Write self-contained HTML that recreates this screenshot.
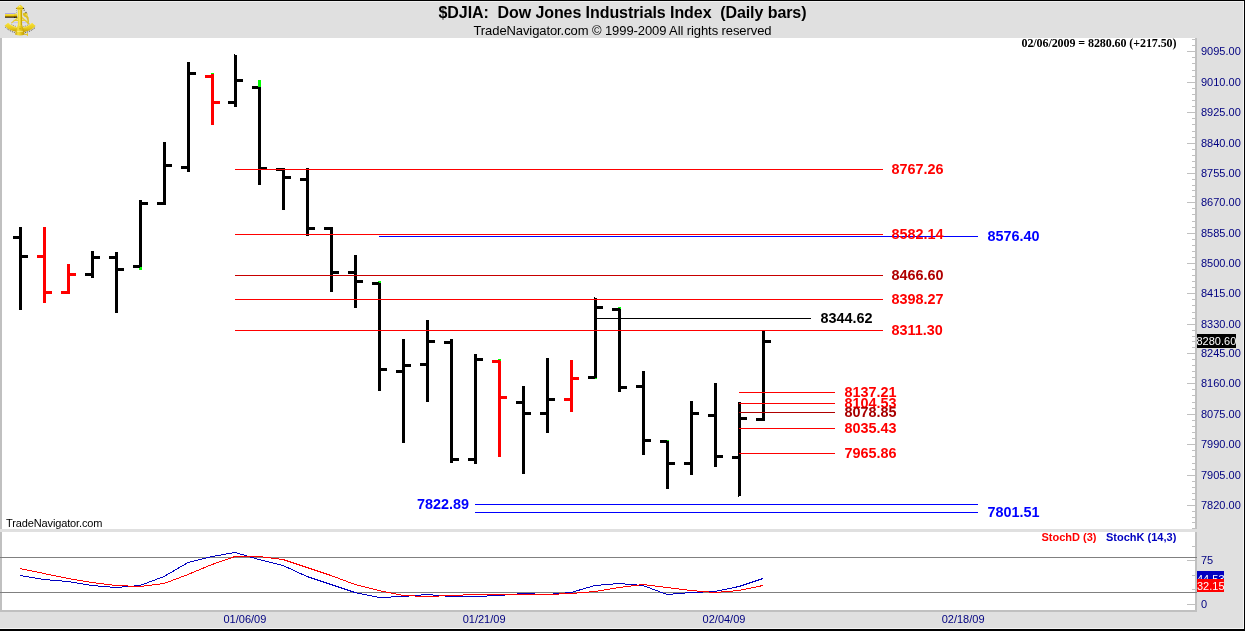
<!DOCTYPE html>
<html><head><meta charset="utf-8"><title>$DJIA</title>
<style>
html,body{margin:0;padding:0;background:#e0e0e0;}
body{width:1245px;height:631px;overflow:hidden;font-family:"Liberation Sans",sans-serif;}
svg{display:block;position:absolute;left:0;top:0;will-change:transform;}
text{font-family:"Liberation Sans",sans-serif;}
.ser{font-family:"Liberation Serif",serif;font-weight:bold;font-size:12px;}
.ax{font-size:11px;fill:#000080;}
.lv{font-size:14.4px;font-weight:bold;}
</style></head><body>
<svg width="1245" height="631" viewBox="0 0 1245 631">
<g shape-rendering="crispEdges">
<rect x="0" y="0" width="1245" height="631" fill="#e0e0e0"/>
<rect x="0" y="0" width="1245" height="1" fill="#000"/>
<rect x="0" y="1" width="1244" height="1" fill="#f0f0f0"/>
<rect x="0" y="628" width="1244" height="1" fill="#f4f4f4"/>
<rect x="1243" y="1" width="1" height="628" fill="#f4f4f4"/>
<rect x="0" y="629" width="1245" height="2" fill="#000"/>
<rect x="1244" y="0" width="1" height="631" fill="#000"/>
<!-- plot areas -->
<rect x="0" y="38" width="2" height="574" fill="#c0c0c0"/>
<rect x="2" y="38" width="1193" height="491" fill="#fff"/>
<rect x="2" y="532" width="1193" height="78" fill="#fff"/>
<rect x="1195" y="38" width="2" height="574" fill="#c0c0c0"/>
<rect x="0" y="610" width="1197" height="2" fill="#c0c0c0"/>
<rect x="0" y="529" width="1198" height="3" fill="#e0e0e0"/>

<rect x="1187" y="51" width="8" height="1" fill="#c0c0c0"/>
<rect x="1187" y="82" width="8" height="1" fill="#c0c0c0"/>
<rect x="1187" y="112" width="8" height="1" fill="#c0c0c0"/>
<rect x="1187" y="143" width="8" height="1" fill="#c0c0c0"/>
<rect x="1187" y="173" width="8" height="1" fill="#c0c0c0"/>
<rect x="1187" y="202" width="8" height="1" fill="#c0c0c0"/>
<rect x="1187" y="233" width="8" height="1" fill="#c0c0c0"/>
<rect x="1187" y="263" width="8" height="1" fill="#c0c0c0"/>
<rect x="1187" y="293" width="8" height="1" fill="#c0c0c0"/>
<rect x="1187" y="324" width="8" height="1" fill="#c0c0c0"/>
<rect x="1187" y="353" width="8" height="1" fill="#c0c0c0"/>
<rect x="1187" y="383" width="8" height="1" fill="#c0c0c0"/>
<rect x="1187" y="414" width="8" height="1" fill="#c0c0c0"/>
<rect x="1187" y="444" width="8" height="1" fill="#c0c0c0"/>
<rect x="1187" y="475" width="8" height="1" fill="#c0c0c0"/>
<rect x="1187" y="505" width="8" height="1" fill="#c0c0c0"/>
<rect x="1192" y="57" width="3" height="1" fill="#c0c0c0"/>
<rect x="1192" y="63" width="3" height="1" fill="#c0c0c0"/>
<rect x="1192" y="70" width="3" height="1" fill="#c0c0c0"/>
<rect x="1192" y="76" width="3" height="1" fill="#c0c0c0"/>
<rect x="1192" y="88" width="3" height="1" fill="#c0c0c0"/>
<rect x="1192" y="94" width="3" height="1" fill="#c0c0c0"/>
<rect x="1192" y="100" width="3" height="1" fill="#c0c0c0"/>
<rect x="1192" y="106" width="3" height="1" fill="#c0c0c0"/>
<rect x="1192" y="118" width="3" height="1" fill="#c0c0c0"/>
<rect x="1192" y="124" width="3" height="1" fill="#c0c0c0"/>
<rect x="1192" y="131" width="3" height="1" fill="#c0c0c0"/>
<rect x="1192" y="137" width="3" height="1" fill="#c0c0c0"/>
<rect x="1192" y="149" width="3" height="1" fill="#c0c0c0"/>
<rect x="1192" y="155" width="3" height="1" fill="#c0c0c0"/>
<rect x="1192" y="161" width="3" height="1" fill="#c0c0c0"/>
<rect x="1192" y="167" width="3" height="1" fill="#c0c0c0"/>
<rect x="1192" y="179" width="3" height="1" fill="#c0c0c0"/>
<rect x="1192" y="185" width="3" height="1" fill="#c0c0c0"/>
<rect x="1192" y="190" width="3" height="1" fill="#c0c0c0"/>
<rect x="1192" y="196" width="3" height="1" fill="#c0c0c0"/>
<rect x="1192" y="208" width="3" height="1" fill="#c0c0c0"/>
<rect x="1192" y="214" width="3" height="1" fill="#c0c0c0"/>
<rect x="1192" y="221" width="3" height="1" fill="#c0c0c0"/>
<rect x="1192" y="227" width="3" height="1" fill="#c0c0c0"/>
<rect x="1192" y="239" width="3" height="1" fill="#c0c0c0"/>
<rect x="1192" y="245" width="3" height="1" fill="#c0c0c0"/>
<rect x="1192" y="251" width="3" height="1" fill="#c0c0c0"/>
<rect x="1192" y="257" width="3" height="1" fill="#c0c0c0"/>
<rect x="1192" y="269" width="3" height="1" fill="#c0c0c0"/>
<rect x="1192" y="275" width="3" height="1" fill="#c0c0c0"/>
<rect x="1192" y="281" width="3" height="1" fill="#c0c0c0"/>
<rect x="1192" y="287" width="3" height="1" fill="#c0c0c0"/>
<rect x="1192" y="299" width="3" height="1" fill="#c0c0c0"/>
<rect x="1192" y="305" width="3" height="1" fill="#c0c0c0"/>
<rect x="1192" y="312" width="3" height="1" fill="#c0c0c0"/>
<rect x="1192" y="318" width="3" height="1" fill="#c0c0c0"/>
<rect x="1192" y="330" width="3" height="1" fill="#c0c0c0"/>
<rect x="1192" y="336" width="3" height="1" fill="#c0c0c0"/>
<rect x="1192" y="341" width="3" height="1" fill="#c0c0c0"/>
<rect x="1192" y="347" width="3" height="1" fill="#c0c0c0"/>
<rect x="1192" y="359" width="3" height="1" fill="#c0c0c0"/>
<rect x="1192" y="365" width="3" height="1" fill="#c0c0c0"/>
<rect x="1192" y="371" width="3" height="1" fill="#c0c0c0"/>
<rect x="1192" y="377" width="3" height="1" fill="#c0c0c0"/>
<rect x="1192" y="389" width="3" height="1" fill="#c0c0c0"/>
<rect x="1192" y="395" width="3" height="1" fill="#c0c0c0"/>
<rect x="1192" y="402" width="3" height="1" fill="#c0c0c0"/>
<rect x="1192" y="408" width="3" height="1" fill="#c0c0c0"/>
<rect x="1192" y="420" width="3" height="1" fill="#c0c0c0"/>
<rect x="1192" y="426" width="3" height="1" fill="#c0c0c0"/>
<rect x="1192" y="432" width="3" height="1" fill="#c0c0c0"/>
<rect x="1192" y="438" width="3" height="1" fill="#c0c0c0"/>
<rect x="1192" y="450" width="3" height="1" fill="#c0c0c0"/>
<rect x="1192" y="456" width="3" height="1" fill="#c0c0c0"/>
<rect x="1192" y="463" width="3" height="1" fill="#c0c0c0"/>
<rect x="1192" y="469" width="3" height="1" fill="#c0c0c0"/>
<rect x="1192" y="481" width="3" height="1" fill="#c0c0c0"/>
<rect x="1192" y="487" width="3" height="1" fill="#c0c0c0"/>
<rect x="1192" y="493" width="3" height="1" fill="#c0c0c0"/>
<rect x="1192" y="499" width="3" height="1" fill="#c0c0c0"/>
<rect x="1192" y="45" width="3" height="1" fill="#c0c0c0"/>
<rect x="1192" y="39" width="3" height="1" fill="#c0c0c0"/>
<rect x="1192" y="511" width="3" height="1" fill="#c0c0c0"/>
<rect x="1192" y="517" width="3" height="1" fill="#c0c0c0"/>
<rect x="1192" y="522" width="3" height="1" fill="#c0c0c0"/>
<rect x="1192" y="528" width="3" height="1" fill="#c0c0c0"/>
<rect x="1187" y="560" width="8" height="1" fill="#c0c0c0"/>
<rect x="1187" y="604" width="8" height="1" fill="#c0c0c0"/>
<rect x="1192" y="546" width="3" height="1" fill="#c0c0c0"/>
<rect x="1192" y="575" width="3" height="1" fill="#c0c0c0"/>
<rect x="1192" y="589" width="3" height="1" fill="#c0c0c0"/>
<rect x="0" y="557" width="1197" height="1" fill="#808080"/>
<rect x="0" y="592" width="1197" height="1" fill="#808080"/>
<rect x="19" y="227" width="3" height="83" fill="#000"/>
<rect x="13" y="236" width="6" height="3" fill="#000"/>
<rect x="22" y="255" width="6" height="3" fill="#000"/>
<rect x="43" y="227" width="3" height="76" fill="#f00"/>
<rect x="37" y="255" width="6" height="3" fill="#f00"/>
<rect x="46" y="291" width="6" height="3" fill="#f00"/>
<rect x="67" y="264" width="3" height="30" fill="#f00"/>
<rect x="61" y="291" width="6" height="3" fill="#f00"/>
<rect x="70" y="273" width="6" height="3" fill="#f00"/>
<rect x="91" y="251" width="3" height="27" fill="#000"/>
<rect x="85" y="273" width="6" height="3" fill="#000"/>
<rect x="94" y="256" width="6" height="3" fill="#000"/>
<rect x="115" y="252" width="3" height="61" fill="#000"/>
<rect x="109" y="256" width="6" height="3" fill="#000"/>
<rect x="118" y="268" width="6" height="3" fill="#000"/>
<rect x="139" y="200" width="3" height="70" fill="#000"/>
<rect x="133" y="265" width="6" height="3" fill="#000"/>
<rect x="142" y="202" width="6" height="3" fill="#000"/>
<rect x="163" y="142" width="3" height="63" fill="#000"/>
<rect x="157" y="202" width="6" height="3" fill="#000"/>
<rect x="166" y="164" width="6" height="3" fill="#000"/>
<rect x="187" y="62" width="3" height="110" fill="#000"/>
<rect x="181" y="166" width="6" height="3" fill="#000"/>
<rect x="190" y="72" width="6" height="3" fill="#000"/>
<rect x="211" y="74" width="3" height="51" fill="#f00"/>
<rect x="205" y="75" width="6" height="3" fill="#f00"/>
<rect x="214" y="101" width="6" height="3" fill="#f00"/>
<rect x="234" y="55" width="3" height="52" fill="#000"/>
<rect x="228" y="101" width="6" height="3" fill="#000"/>
<rect x="237" y="79" width="6" height="3" fill="#000"/>
<rect x="258" y="87" width="3" height="98" fill="#000"/>
<rect x="252" y="86" width="6" height="3" fill="#000"/>
<rect x="261" y="167" width="6" height="3" fill="#000"/>
<rect x="282" y="168" width="3" height="42" fill="#000"/>
<rect x="276" y="168" width="6" height="3" fill="#000"/>
<rect x="285" y="176" width="6" height="3" fill="#000"/>
<rect x="306" y="168" width="3" height="68" fill="#000"/>
<rect x="300" y="178" width="6" height="3" fill="#000"/>
<rect x="309" y="227" width="6" height="3" fill="#000"/>
<rect x="330" y="227" width="3" height="65" fill="#000"/>
<rect x="324" y="227" width="6" height="3" fill="#000"/>
<rect x="333" y="271" width="6" height="3" fill="#000"/>
<rect x="354" y="255" width="3" height="53" fill="#000"/>
<rect x="348" y="271" width="6" height="3" fill="#000"/>
<rect x="357" y="280" width="6" height="3" fill="#000"/>
<rect x="378" y="283" width="3" height="108" fill="#000"/>
<rect x="372" y="282" width="6" height="3" fill="#000"/>
<rect x="381" y="368" width="6" height="3" fill="#000"/>
<rect x="402" y="339" width="3" height="104" fill="#000"/>
<rect x="396" y="370" width="6" height="3" fill="#000"/>
<rect x="405" y="364" width="6" height="3" fill="#000"/>
<rect x="426" y="320" width="3" height="82" fill="#000"/>
<rect x="420" y="363" width="6" height="3" fill="#000"/>
<rect x="429" y="340" width="6" height="3" fill="#000"/>
<rect x="450" y="339" width="3" height="124" fill="#000"/>
<rect x="444" y="341" width="6" height="3" fill="#000"/>
<rect x="453" y="458" width="6" height="3" fill="#000"/>
<rect x="474" y="354" width="3" height="110" fill="#000"/>
<rect x="468" y="458" width="6" height="3" fill="#000"/>
<rect x="477" y="358" width="6" height="3" fill="#000"/>
<rect x="498" y="360" width="3" height="97" fill="#f00"/>
<rect x="492" y="360" width="6" height="3" fill="#f00"/>
<rect x="501" y="396" width="6" height="3" fill="#f00"/>
<rect x="522" y="386" width="3" height="88" fill="#000"/>
<rect x="516" y="401" width="6" height="3" fill="#000"/>
<rect x="525" y="412" width="6" height="3" fill="#000"/>
<rect x="546" y="358" width="3" height="75" fill="#000"/>
<rect x="540" y="412" width="6" height="3" fill="#000"/>
<rect x="549" y="398" width="6" height="3" fill="#000"/>
<rect x="570" y="360" width="3" height="52" fill="#f00"/>
<rect x="564" y="398" width="6" height="3" fill="#f00"/>
<rect x="573" y="377" width="6" height="3" fill="#f00"/>
<rect x="594" y="298" width="3" height="81" fill="#000"/>
<rect x="588" y="376" width="6" height="3" fill="#000"/>
<rect x="597" y="306" width="6" height="3" fill="#000"/>
<rect x="618" y="308" width="3" height="84" fill="#000"/>
<rect x="612" y="308" width="6" height="3" fill="#000"/>
<rect x="621" y="386" width="6" height="3" fill="#000"/>
<rect x="642" y="371" width="3" height="84" fill="#000"/>
<rect x="636" y="385" width="6" height="3" fill="#000"/>
<rect x="645" y="439" width="6" height="3" fill="#000"/>
<rect x="666" y="441" width="3" height="48" fill="#000"/>
<rect x="660" y="440" width="6" height="3" fill="#000"/>
<rect x="669" y="462" width="6" height="3" fill="#000"/>
<rect x="690" y="401" width="3" height="74" fill="#000"/>
<rect x="684" y="462" width="6" height="3" fill="#000"/>
<rect x="693" y="412" width="6" height="3" fill="#000"/>
<rect x="714" y="383" width="3" height="84" fill="#000"/>
<rect x="708" y="414" width="6" height="3" fill="#000"/>
<rect x="717" y="455" width="6" height="3" fill="#000"/>
<rect x="738" y="402" width="3" height="94" fill="#000"/>
<rect x="732" y="456" width="6" height="3" fill="#000"/>
<rect x="741" y="417" width="6" height="3" fill="#000"/>
<rect x="762" y="331" width="3" height="90" fill="#000"/>
<rect x="756" y="418" width="6" height="3" fill="#000"/>
<rect x="765" y="340" width="6" height="3" fill="#000"/>
<rect x="234" y="54" width="1" height="1" fill="#000"/>
<rect x="594" y="297" width="1" height="1" fill="#000"/>
<rect x="738" y="496" width="1" height="1" fill="#000"/>
<rect x="139" y="268" width="3" height="2" fill="#00ff00"/>
<rect x="140" y="267" width="2" height="1" fill="#00ff00"/>
<rect x="211" y="73" width="3" height="1" fill="#00ff00"/>
<rect x="258" y="80" width="3" height="7" fill="#00ff00"/>
<rect x="378" y="281" width="3" height="1" fill="#00ff00"/>
<rect x="379" y="282" width="2" height="1" fill="#00ff00"/>
<rect x="378" y="282" width="1" height="1" fill="#000"/>
<rect x="498" y="359" width="3" height="1" fill="#00ff00"/>
<rect x="500" y="360" width="1" height="1" fill="#00ff00"/>
<rect x="595" y="378" width="2" height="1" fill="#00ff00"/>
<rect x="618" y="307" width="3" height="1" fill="#00ff00"/>
<rect x="620" y="308" width="1" height="1" fill="#00ff00"/>
<rect x="666" y="440" width="1" height="1" fill="#000"/>
<rect x="667" y="440" width="2" height="1" fill="#00ff00"/>
<rect x="235" y="169" width="648" height="1" fill="#f00"/>
<rect x="235" y="234" width="648" height="1" fill="#f00"/>
<rect x="379" y="236" width="599" height="1" fill="#00f"/>
<rect x="235" y="275" width="648" height="1" fill="#c80000"/>
<rect x="235" y="299" width="648" height="1" fill="#f00"/>
<rect x="235" y="330" width="648" height="1" fill="#f00"/>
<rect x="597" y="318" width="214" height="1" fill="#000"/>
<rect x="739" y="392" width="96" height="1" fill="#f00"/>
<rect x="739" y="403" width="96" height="1" fill="#f00"/>
<rect x="739" y="412" width="96" height="1" fill="#b00000"/>
<rect x="739" y="428" width="96" height="1" fill="#f00"/>
<rect x="739" y="453" width="96" height="1" fill="#f00"/>
<rect x="475" y="504" width="503" height="1" fill="#00f"/>
<rect x="475" y="512" width="503" height="1" fill="#00f"/>
<rect x="1197" y="334" width="39" height="14" fill="#000"/>
<rect x="1197" y="571" width="27" height="8" fill="#0000c0"/>
<rect x="1197" y="579" width="27" height="13" fill="#f00"/>
<polyline points="20,575.5 44,579.5 68,581.5 92,585.5 116,587.5 140,585.5 164,576.5 188,562.5 212,556.5 235,552.5 259,559.5 283,565.5 307,576.5 331,584.5 355,592.5 379,597.5 403,596.5 427,594.5 451,596.5 475,596.5 499,595.5 523,593.5 547,594.5 571,592.5 595,585.5 619,583.5 643,585.5 667,594.5 691,592.5 715,591.5 739,586.5 763,578.5" fill="none" stroke="#0000c0" stroke-width="1"/>
<polyline points="20,568.5 44,573.5 68,578.5 92,582.5 116,585.5 140,586.5 164,583.5 188,574.5 212,564.5 235,556.5 259,556.5 283,559.5 307,567.5 331,575.5 355,584.5 379,590.5 403,595.5 427,596.5 451,595.5 475,594.5 499,594.5 523,594.5 547,594.5 571,593.5 595,591.5 619,587.5 643,584.5 667,587.5 691,590.5 715,592.5 739,590.5 763,585.5" fill="none" stroke="#f00" stroke-width="1"/>
</g>
<g id="sextant">
<defs>
<linearGradient id="gp" x1="0" y1="0" x2="1" y2="0"><stop offset="0" stop-color="#c49a00"/><stop offset="0.3" stop-color="#f4e040"/><stop offset="0.55" stop-color="#e8cc1e"/><stop offset="1" stop-color="#b89000"/></linearGradient>
<linearGradient id="gt" x1="0" y1="0" x2="0" y2="1"><stop offset="0" stop-color="#f6e45a"/><stop offset="0.45" stop-color="#e8c818"/><stop offset="0.68" stop-color="#9a7600"/><stop offset="0.8" stop-color="#2a1c00"/><stop offset="1" stop-color="#1a1000"/></linearGradient>
<linearGradient id="ga" x1="0" y1="0" x2="0" y2="1"><stop offset="0" stop-color="#f8e23a"/><stop offset="0.55" stop-color="#e8ca1c"/><stop offset="1" stop-color="#c09800"/></linearGradient>
</defs>
<!-- shadow under arc (outer lower edge) -->
<path d="M5.3,27.1 A21.75,21.75 0 0 0 15,32.6" fill="none" stroke="#1c1400" stroke-width="1" stroke-dasharray="1 1" opacity="0.7"/>
<path d="M25.2,32.6 A21.75,21.75 0 0 0 35.3,27.4" fill="none" stroke="#1c1400" stroke-width="1" stroke-dasharray="1 1" opacity="0.8"/>
<!-- crossbar (lavender) and frame arms -->
<path d="M12.5,22.6 L27.5,22.6" fill="none" stroke="#b8b8f8" stroke-width="0.8" opacity="0.9"/>
<path d="M18.2,17.5 L11.3,23.2 M22,17.5 L29,24 M13.5,20.4 L26.5,20.4" fill="none" stroke="#e8cc2c" stroke-width="1.1"/>
<!-- arc -->
<path d="M4.53,25.69 A21.75,21.75 0 0 0 35.67,25.9 L32.05,22.87 A17.2,17.2 0 0 1 8.15,22.87 Z" fill="url(#ga)"/>
<path d="M8.6,23.6 A17.2,17.2 0 0 0 31.6,23.6" fill="none" stroke="#fff27a" stroke-width="0.7" opacity="0.7"/>
<!-- inner shadow dots near base -->
<path d="M11.5,24.4 A17.2,17.2 0 0 0 16.5,26.6" fill="none" stroke="#2a2000" stroke-width="0.8" stroke-dasharray="0.9 1" opacity="0.55"/>
<path d="M23.4,26.6 A17.2,17.2 0 0 0 29.5,24" fill="none" stroke="#2a2000" stroke-width="0.8" stroke-dasharray="0.9 1" opacity="0.6"/>
<!-- mirror assembly right -->
<path d="M23,13.2 L25.2,12.4 L27.6,13.4 L27.4,15.4 L28.6,17.6 L29,21.5 L28.6,23.6 L27.2,23.4 L27.4,20 L26.2,17.4 L24.2,16.6 L23,15 Z" fill="#dcc024"/>
<circle cx="26" cy="12.5" r="0.8" fill="#5a5030" opacity="0.85"/>
<circle cx="26.4" cy="14.6" r="0.9" fill="#f4e050"/>
<!-- telescope -->
<rect x="5" y="13.9" width="10" height="3.8" fill="url(#gt)"/>
<rect x="14" y="13.4" width="3.2" height="4.4" fill="url(#gt)"/>
<rect x="5" y="13" width="10.4" height="0.8" fill="#8c84f8" opacity="0.75"/>
<!-- pillar + base -->
<path d="M17.8,9 L22.2,9 L22.1,24.6 L22.6,26.2 L24.8,34.4 Q20,36.6 15,34.4 L17.4,26.2 L17.9,24.6 Z" fill="url(#gp)"/>
<path d="M19.6,9.8 L19.8,26" stroke="#fff68a" stroke-width="0.8" fill="none" opacity="0.85"/>
<path d="M21.4,10 L21.5,25" stroke="#a88400" stroke-width="0.6" fill="none" opacity="0.7"/>
<path d="M17,31.4 L23,31.4" stroke="#fff9b0" stroke-width="0.9" opacity="0.65"/>
<circle cx="20" cy="28.8" r="0.7" fill="#b08c00" opacity="0.7"/>
<!-- top dome -->
<path d="M20.2,4.7 L22,5.9 L23.4,7.8 L23.2,9 L22.2,9.7 L17.8,9.7 L16.8,9 L16.7,7.8 L18.3,5.9 Z" fill="#ecd228"/>
<ellipse cx="19.6" cy="6.2" rx="1" ry="0.6" fill="#fff68a"/>
<path d="M17.2,8.6 L23,8.6" stroke="#c8a400" stroke-width="0.7"/>
<circle cx="23.5" cy="8.4" r="0.7" fill="#141000" opacity="0.85"/>
<circle cx="24.2" cy="10.2" r="0.6" fill="#3a3000" opacity="0.7"/>
<circle cx="16.5" cy="8.4" r="0.6" fill="#a07800" opacity="0.9"/>
<circle cx="16.4" cy="10.4" r="0.45" fill="#404040" opacity="0.6"/>
<circle cx="16.4" cy="12.2" r="0.45" fill="#404040" opacity="0.6"/>
<!-- small knob bottom right -->
<rect x="24.6" y="33.9" width="2.6" height="1" fill="#e0c21c"/>
<rect x="26.9" y="33.2" width="1.1" height="2.7" fill="#e6ca24"/>
</g>

<text x="622.5" y="18" text-anchor="middle" font-size="16" font-weight="bold" fill="#000" textLength="368" lengthAdjust="spacing">$DJIA:&#160;&#160;Dow Jones Industrials Index&#160;&#160;(Daily bars)</text>
<text x="622.5" y="35" text-anchor="middle" font-size="13" fill="#000" textLength="298" lengthAdjust="spacing">TradeNavigator.com © 1999-2009 All rights reserved</text>
<text x="1021.5" y="47" class="ser" fill="#000" textLength="155" lengthAdjust="spacing">02/06/2009 = 8280.60 (+217.50)</text>
<text x="1201" y="55" class="ax">9095.00</text>
<text x="1201" y="86" class="ax">9010.00</text>
<text x="1201" y="116" class="ax">8925.00</text>
<text x="1201" y="147" class="ax">8840.00</text>
<text x="1201" y="177" class="ax">8755.00</text>
<text x="1201" y="206" class="ax">8670.00</text>
<text x="1201" y="237" class="ax">8585.00</text>
<text x="1201" y="267" class="ax">8500.00</text>
<text x="1201" y="297" class="ax">8415.00</text>
<text x="1201" y="328" class="ax">8330.00</text>
<text x="1201" y="357" class="ax">8245.00</text>
<text x="1201" y="387" class="ax">8160.00</text>
<text x="1201" y="418" class="ax">8075.00</text>
<text x="1201" y="448" class="ax">7990.00</text>
<text x="1201" y="479" class="ax">7905.00</text>
<text x="1201" y="509" class="ax">7820.00</text>
<rect x="1197" y="334" width="39" height="14" fill="#000" shape-rendering="crispEdges"/>
<text x="1196.5" y="345" font-size="11" fill="#fff">8280.60</text>
<text x="1201" y="564" class="ax">75</text>
<text x="1201" y="608" class="ax">0</text>
<text x="1197" y="583" font-size="11" fill="#fff">44.53</text>
<rect x="1197" y="579" width="27" height="13" fill="#f00" shape-rendering="crispEdges"/>
<text x="1197" y="590" font-size="11" fill="#fff">32.15</text>
<text x="6" y="527" font-size="11" fill="#000" textLength="96.5" lengthAdjust="spacing">TradeNavigator.com</text>
<text x="223.5" y="623" class="ax">01/06/09</text>
<text x="462.7" y="623" class="ax">01/21/09</text>
<text x="702.6" y="623" class="ax">02/04/09</text>
<text x="941.7" y="623" class="ax">02/18/09</text>
<text x="1041.5" y="541" font-size="11" font-weight="bold" fill="#f00">StochD (3)</text>
<text x="1106" y="541" font-size="11" font-weight="bold" fill="#0000c0">StochK (14,3)</text>
<text x="891.5" y="173.7" class="lv" fill="#f00">8767.26</text>
<text x="891.5" y="238.7" class="lv" fill="#f00">8582.14</text>
<text x="987.5" y="240.7" class="lv" fill="#00f">8576.40</text>
<text x="891.5" y="279.7" class="lv" fill="#b00000">8466.60</text>
<text x="891.5" y="303.7" class="lv" fill="#f00">8398.27</text>
<text x="820.5" y="322.7" class="lv" fill="#000">8344.62</text>
<text x="891.5" y="334.7" class="lv" fill="#f00">8311.30</text>
<text x="844.5" y="396.7" class="lv" fill="#f00">8137.21</text>
<text x="844.5" y="407.7" class="lv" fill="#f00">8104.53</text>
<text x="844.5" y="416.7" class="lv" fill="#a80000">8078.85</text>
<text x="844.5" y="432.7" class="lv" fill="#f00">8035.43</text>
<text x="844.5" y="457.7" class="lv" fill="#f00">7965.86</text>
<text x="417.0" y="508.7" class="lv" fill="#00f">7822.89</text>
<text x="987.5" y="516.7" class="lv" fill="#00f">7801.51</text>
</svg></body></html>
